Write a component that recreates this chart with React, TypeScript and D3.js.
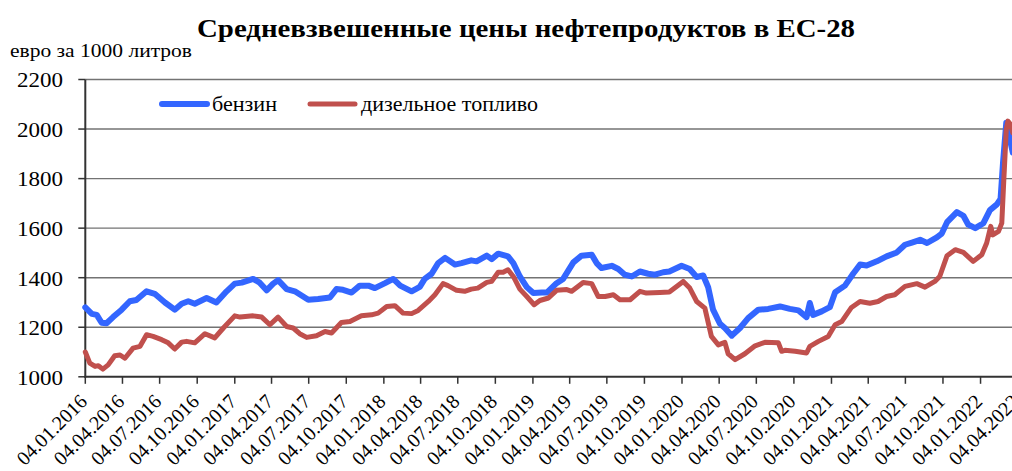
import React from 'react';
import * as d3 from 'd3';

const title = 'Средневзвешенные цены нефтепродуктов в ЕС-28';
const unitLabel = 'евро за 1000 литров';
const seriesNames = ['бензин', 'дизельное топливо'];
const seriesColors = ['#3366ff', '#c0504d'];

const yTicks = [1000, 1200, 1400, 1600, 1800, 2000, 2200];

const tickLabels = [
  '04.01.2016', '04.04.2016', '04.07.2016', '04.10.2016',
  '04.01.2017', '04.04.2017', '04.07.2017', '04.10.2017',
  '04.01.2018', '04.04.2018', '04.07.2018', '04.10.2018',
  '04.01.2019', '04.04.2019', '04.07.2019', '04.10.2019',
  '04.01.2020', '04.04.2020', '04.07.2020', '04.10.2020',
  '04.01.2021', '04.04.2021', '04.07.2021', '04.10.2021',
  '04.01.2022', '04.04.2022',
];

// бензин
const petrolDates = [
  '04.01.2016', '20.01.2016', '01.02.2016', '13.02.2016', '25.02.2016', '12.03.2016', '02.04.2016', '22.04.2016',
  '08.05.2016', '02.06.2016', '22.06.2016', '17.07.2016', '10.08.2016', '27.08.2016', '12.09.2016', '28.09.2016',
  '27.10.2016', '20.11.2016', '15.12.2016', '04.01.2017', '21.01.2017', '18.02.2017', '06.03.2017', '23.03.2017',
  '08.04.2017', '20.04.2017', '11.05.2017', '31.05.2017', '03.07.2017', '27.07.2017', '25.08.2017', '10.09.2017',
  '26.09.2017', '17.10.2017', '06.11.2017', '27.11.2017', '13.12.2017', '07.01.2018', '27.01.2018', '13.02.2018',
  '13.03.2018', '02.04.2018', '14.04.2018', '01.05.2018', '17.05.2018', '03.06.2018', '27.06.2018', '13.07.2018',
  '06.08.2018', '19.08.2018', '13.09.2018', '25.09.2018', '11.10.2018', '04.11.2018', '17.11.2018', '03.12.2018',
  '20.12.2018', '05.01.2019', '26.01.2019', '07.02.2019', '03.03.2019', '19.03.2019', '13.04.2019', '03.05.2019',
  '28.05.2019', '09.06.2019', '21.06.2019', '16.07.2019', '01.08.2019', '17.08.2019', '03.09.2019', '23.09.2019',
  '13.10.2019', '30.10.2019', '19.11.2019', '04.12.2019', '03.01.2020', '23.01.2020', '09.02.2020', '25.02.2020',
  '08.03.2020', '20.03.2020', '06.04.2020', '18.04.2020', '05.05.2020', '25.05.2020', '14.06.2020', '09.07.2020',
  '02.08.2020', '31.08.2020', '24.09.2020', '15.10.2020', '04.11.2020', '12.11.2020', '20.11.2020', '11.12.2020',
  '31.12.2020', '13.01.2021', '06.02.2021', '26.02.2021', '15.03.2021', '31.03.2021', '25.04.2021', '19.05.2021',
  '13.06.2021', '03.07.2021', '20.07.2021', '09.08.2021', '26.08.2021', '19.09.2021', '01.10.2021', '14.10.2021',
  '07.11.2021', '23.11.2021', '05.12.2021', '22.12.2021', '11.01.2022', '27.01.2022', '13.02.2022', '22.02.2022',
  '28.02.2022', '08.03.2022', '16.03.2022', '24.03.2022',
];
const petrolValues = [
  1280, 1254, 1250, 1218, 1216, 1241, 1271, 1305,
  1310, 1345, 1335, 1300, 1271, 1295, 1305, 1295,
  1318, 1300, 1345, 1376, 1380, 1395, 1380, 1349,
  1376, 1390, 1354, 1345, 1311, 1314, 1320, 1354,
  1351, 1340, 1368, 1368, 1358, 1378, 1395, 1368,
  1345, 1363, 1395, 1416, 1459, 1480, 1453, 1459,
  1470, 1466, 1489, 1475, 1497, 1486, 1459, 1405,
  1362, 1338, 1340, 1340, 1378, 1395, 1462, 1489,
  1493, 1459, 1439, 1448, 1435, 1412, 1405, 1425,
  1416, 1412, 1422, 1425, 1448, 1435, 1403, 1409,
  1362, 1271, 1214, 1197, 1166, 1197, 1237, 1271,
  1274, 1284, 1274, 1268, 1241, 1298, 1250, 1264,
  1281, 1341, 1368, 1416, 1453, 1449, 1466, 1486,
  1502, 1533, 1542, 1553, 1540, 1563, 1578, 1624,
  1665, 1650, 1614, 1600, 1620, 1673, 1696, 1718,
  1863, 2025, 1964, 1905,
];

// дизельное топливо
const dieselDates = [
  '04.01.2016', '15.01.2016', '28.01.2016', '05.02.2016', '16.02.2016', '29.02.2016', '16.03.2016', '29.03.2016',
  '10.04.2016', '30.04.2016', '17.05.2016', '02.06.2016', '18.06.2016', '09.07.2016', '25.07.2016', '10.08.2016',
  '27.08.2016', '08.09.2016', '28.09.2016', '23.10.2016', '16.11.2016', '07.12.2016', '04.01.2017', '17.01.2017',
  '18.02.2017', '11.03.2017', '31.03.2017', '20.04.2017', '11.05.2017', '27.05.2017', '12.06.2017', '29.06.2017',
  '23.07.2017', '13.08.2017', '29.08.2017', '22.09.2017', '13.10.2017', '10.11.2017', '05.12.2017', '21.12.2017',
  '11.01.2018', '31.01.2018', '20.02.2018', '13.03.2018', '29.03.2018', '23.04.2018', '09.05.2018', '29.05.2018',
  '10.06.2018', '01.07.2018', '21.07.2018', '06.08.2018', '22.08.2018', '13.09.2018', '25.09.2018', '11.10.2018',
  '23.10.2018', '04.11.2018', '17.11.2018', '03.12.2018', '20.12.2018', '07.01.2019', '21.01.2019', '11.02.2019',
  '03.03.2019', '28.03.2019', '09.04.2019', '07.05.2019', '28.05.2019', '13.06.2019', '30.06.2019', '20.07.2019',
  '05.08.2019', '30.08.2019', '23.09.2019', '09.10.2019', '11.11.2019', '04.12.2019', '07.01.2020', '23.01.2020',
  '09.02.2020', '29.02.2020', '16.03.2020', '02.04.2020', '18.04.2020', '26.04.2020', '13.05.2020', '06.06.2020',
  '01.07.2020', '25.07.2020', '27.08.2020', '04.09.2020', '12.09.2020', '07.10.2020', '04.11.2020', '12.11.2020',
  '03.12.2020', '27.12.2020', '13.01.2021', '29.01.2021', '22.02.2021', '15.03.2021', '08.04.2021', '28.04.2021',
  '19.05.2021', '08.06.2021', '03.07.2021', '01.08.2021', '21.08.2021', '14.09.2021', '26.09.2021', '14.10.2021',
  '03.11.2021', '23.11.2021', '17.12.2021', '07.01.2022', '19.01.2022', '29.01.2022', '03.02.2022', '17.02.2022',
  '25.02.2022', '02.03.2022', '08.03.2022', '12.03.2022', '18.03.2022', '24.03.2022',
];
const dieselValues = [
  1100, 1055, 1042, 1045, 1031, 1048, 1085, 1088,
  1075, 1116, 1123, 1170, 1163, 1150, 1137, 1112,
  1140, 1143, 1137, 1174, 1157, 1197, 1246, 1241,
  1246, 1241, 1210, 1241, 1203, 1197, 1174, 1159,
  1166, 1183, 1177, 1219, 1223, 1246, 1250, 1257,
  1284, 1287, 1257, 1255, 1268, 1304, 1331, 1376,
  1368, 1349, 1345, 1354, 1358, 1381, 1385, 1422,
  1422, 1432, 1405, 1354, 1324, 1291, 1308, 1318,
  1349, 1352, 1345, 1381, 1376, 1324, 1324, 1331,
  1311, 1311, 1345, 1338, 1340, 1342, 1385, 1358,
  1304, 1277, 1163, 1129, 1139, 1093, 1069, 1093,
  1125, 1139, 1137, 1103, 1107, 1103, 1096, 1123,
  1143, 1163, 1210, 1223, 1280, 1304, 1297, 1304,
  1324, 1331, 1365, 1376, 1362, 1385, 1405, 1489,
  1513, 1502, 1466, 1493, 1540, 1607, 1573, 1587,
  1620, 1796, 1998, 2032, 2020, 1985,
];

const W = 1012;
const H = 471;
const plotLeft = 85.3;
const plotTop = 79.5;
const plotBottom = 376.8;
const serif = "'Liberation Serif', 'Times New Roman', Tinos, 'DejaVu Serif', serif";

export default function App() {
  const parse = d3.timeParse('%d.%m.%Y');
  const tickDates = tickLabels.map(s => parse(s) as Date);

  const x = d3.scaleTime()
    .domain([tickDates[0], tickDates[tickDates.length - 1]])
    .range([plotLeft, 1017.3]);
  const y = d3.scaleLinear().domain([1000, 2200]).range([plotBottom, plotTop]);

  const series = [
    { name: seriesNames[0], color: seriesColors[0], width: 6, dates: petrolDates, values: petrolValues },
    { name: seriesNames[1], color: seriesColors[1], width: 5, dates: dieselDates, values: dieselValues },
  ];

  const line = d3.line<[Date, number]>()
    .x(d => x(d[0]))
    .y(d => y(d[1]));

  return (
    <svg width={W} height={H} style={{ position: 'absolute', left: 0, top: 0, background: '#fff', fontFamily: serif }}>
      <text x={526} y={37} textAnchor="middle" fontSize={26} fontWeight="bold"
        textLength={658} lengthAdjust="spacingAndGlyphs">{title}</text>
      <text x={10} y={57} fontSize={18.5} textLength={182} lengthAdjust="spacingAndGlyphs">{unitLabel}</text>

      {/* grid */}
      {yTicks.filter(t => t > 1000).map(t => (
        <line key={t} x1={plotLeft} x2={W} y1={y(t)} y2={y(t)} stroke="#737373" strokeWidth={1.4} />
      ))}

      {/* y axis */}
      <line x1={plotLeft} x2={plotLeft} y1={plotTop} y2={plotBottom + 1} stroke="#333" strokeWidth={2} />
      {yTicks.map(t => (
        <g key={t}>
          <line x1={78.3} x2={plotLeft} y1={y(t)} y2={y(t)} stroke="#333" strokeWidth={1.5} />
          <text x={63} y={y(t) + 7.8} textAnchor="end" fontSize={22}
            textLength={46} lengthAdjust="spacingAndGlyphs">{t}</text>
        </g>
      ))}

      {/* x axis */}
      <line x1={plotLeft - 1} x2={W} y1={plotBottom} y2={plotBottom} stroke="#333" strokeWidth={2} />
      {tickDates.map((d, i) => (
        <g key={tickLabels[i]}>
          <line x1={x(d)} x2={x(d)} y1={plotBottom} y2={plotBottom + 7} stroke="#333" strokeWidth={1.5} />
          <text transform={`translate(${x(d) + 3},${plotBottom + 26}) rotate(-45)`} textAnchor="end" fontSize={20}
            textLength={90} lengthAdjust="spacingAndGlyphs">
            {tickLabels[i]}
          </text>
        </g>
      ))}

      {/* series */}
      {series.map(s => (
        <path key={s.name}
          d={line(s.dates.map((ds, i) => [parse(ds) as Date, s.values[i]])) || ''}
          fill="none" stroke={s.color} strokeWidth={s.width} strokeLinejoin="round" strokeLinecap="round" />
      ))}

      {/* legend */}
      <line x1={162} x2={207} y1={104} y2={104} stroke={seriesColors[0]} strokeWidth={6} strokeLinecap="round" />
      <text x={212} y={111} fontSize={21} textLength={65} lengthAdjust="spacingAndGlyphs">{seriesNames[0]}</text>
      <line x1={310} x2={355} y1={104} y2={104} stroke={seriesColors[1]} strokeWidth={5} strokeLinecap="round" />
      <text x={361} y={111} fontSize={21} textLength={177} lengthAdjust="spacingAndGlyphs">{seriesNames[1]}</text>
    </svg>
  );
}
